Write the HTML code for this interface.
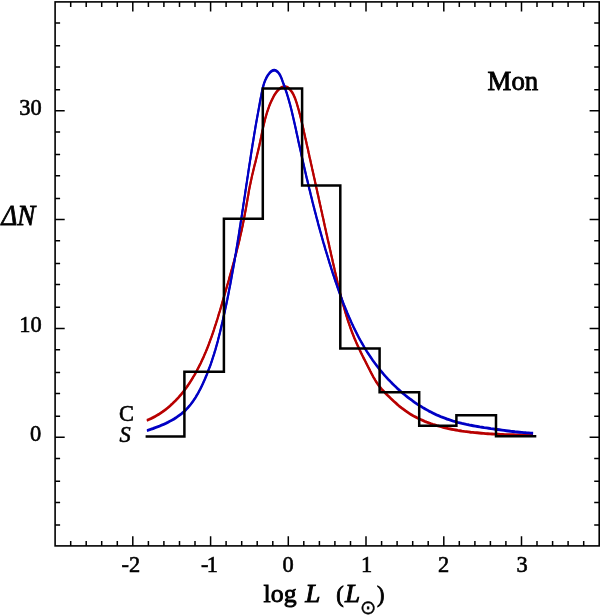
<!DOCTYPE html>
<html><head><meta charset="utf-8"><title>Mon luminosity function</title>
<style>
html,body{margin:0;padding:0;background:#fff;}
svg{display:block;}
text{font-family:"Liberation Serif","DejaVu Serif",serif;fill:#000;}
.tk{font-size:22.4px;stroke:#000;stroke-width:.6px;}
.big{font-size:26.8px;stroke:#000;stroke-width:.85px;}
</style></head><body>
<svg width="600" height="615" viewBox="0 0 600 615">
<defs><filter id="soft" x="-2%" y="-2%" width="104%" height="104%"><feGaussianBlur stdDeviation="0.5"/></filter></defs>
<rect width="600" height="615" fill="#fff"/>
<g filter="url(#soft)">
<path d="M70.7 545.9 v-5 M70.7 1.9 v5 M86.2 545.9 v-5 M86.2 1.9 v5 M101.7 545.9 v-5 M101.7 1.9 v5 M117.3 545.9 v-5 M117.3 1.9 v5 M132.8 545.9 v-9.6 M132.8 1.9 v9.6 M148.4 545.9 v-5 M148.4 1.9 v5 M163.9 545.9 v-5 M163.9 1.9 v5 M179.5 545.9 v-5 M179.5 1.9 v5 M195.0 545.9 v-5 M195.0 1.9 v5 M210.6 545.9 v-9.6 M210.6 1.9 v9.6 M226.1 545.9 v-5 M226.1 1.9 v5 M241.7 545.9 v-5 M241.7 1.9 v5 M257.2 545.9 v-5 M257.2 1.9 v5 M272.8 545.9 v-5 M272.8 1.9 v5 M288.3 545.9 v-9.6 M288.3 1.9 v9.6 M303.8 545.9 v-5 M303.8 1.9 v5 M319.4 545.9 v-5 M319.4 1.9 v5 M334.9 545.9 v-5 M334.9 1.9 v5 M350.5 545.9 v-5 M350.5 1.9 v5 M366.0 545.9 v-9.6 M366.0 1.9 v9.6 M381.6 545.9 v-5 M381.6 1.9 v5 M397.1 545.9 v-5 M397.1 1.9 v5 M412.7 545.9 v-5 M412.7 1.9 v5 M428.2 545.9 v-5 M428.2 1.9 v5 M443.8 545.9 v-9.6 M443.8 1.9 v9.6 M459.3 545.9 v-5 M459.3 1.9 v5 M474.9 545.9 v-5 M474.9 1.9 v5 M490.4 545.9 v-5 M490.4 1.9 v5 M505.9 545.9 v-5 M505.9 1.9 v5 M521.5 545.9 v-9.6 M521.5 1.9 v9.6 M537.0 545.9 v-5 M537.0 1.9 v5 M552.6 545.9 v-5 M552.6 1.9 v5 M568.1 545.9 v-5 M568.1 1.9 v5 M583.7 545.9 v-5 M583.7 1.9 v5 M55.1 525.1 h5 M599.2 525.1 h-5 M55.1 502.4 h5 M599.2 502.4 h-5 M55.1 481.2 h5 M599.2 481.2 h-5 M55.1 458.5 h5 M599.2 458.5 h-5 M55.1 437.3 h9.6 M599.2 437.3 h-9.6 M55.1 416.3 h5 M599.2 416.3 h-5 M55.1 393.6 h5 M599.2 393.6 h-5 M55.1 372.4 h5 M599.2 372.4 h-5 M55.1 349.7 h5 M599.2 349.7 h-5 M55.1 328.5 h9.6 M599.2 328.5 h-9.6 M55.1 307.3 h5 M599.2 307.3 h-5 M55.1 284.6 h5 M599.2 284.6 h-5 M55.1 263.4 h5 M599.2 263.4 h-5 M55.1 240.7 h5 M599.2 240.7 h-5 M55.1 219.5 h9.6 M599.2 219.5 h-9.6 M55.1 198.5 h5 M599.2 198.5 h-5 M55.1 175.8 h5 M599.2 175.8 h-5 M55.1 154.6 h5 M599.2 154.6 h-5 M55.1 131.9 h5 M599.2 131.9 h-5 M55.1 110.7 h9.6 M599.2 110.7 h-9.6 M55.1 89.7 h5 M599.2 89.7 h-5 M55.1 67.0 h5 M599.2 67.0 h-5 M55.1 45.8 h5 M599.2 45.8 h-5 M55.1 23.1 h5 M599.2 23.1 h-5" stroke="#000" stroke-width="1.5" fill="none"/>
<rect x="55.1" y="1.9" width="544.1" height="544.0" fill="none" stroke="#000" stroke-width="1.6"/>
<g fill="none" stroke="#b80000" stroke-width="2.05" stroke-linejoin="round"><polyline transform="translate(0,-0.42)" points="146.9,420.4 148.9,419.5 150.9,418.6 152.9,417.6 154.8,416.6 156.7,415.5 158.6,414.4 160.4,413.2 162.2,412.0 164.0,410.7 165.7,409.5 167.4,408.1 169.0,406.8 170.6,405.3 172.2,403.9 173.7,402.4 175.3,400.9 176.7,399.4 178.2,397.8 179.6,396.2 181.0,394.6 182.4,392.9 183.7,391.2 185.0,389.5 186.3,387.8 187.5,386.0 188.7,384.2 189.9,382.4 191.1,380.6 192.2,378.8 193.3,376.9 194.4,375.1 195.5,373.2 196.5,371.3 197.5,369.4 198.5,367.5 199.5,365.5 200.5,363.6 201.4,361.7 202.3,359.7 203.2,357.8 204.1,355.8 204.9,353.8 205.8,351.8 206.6,349.9 207.4,347.9 208.2,345.9 208.9,343.9 209.7,341.9 210.4,339.8 211.2,337.8 211.9,335.8 212.6,333.8 213.3,331.7 214.0,329.7 214.6,327.6 215.3,325.6 216.0,323.5 216.6,321.5 217.3,319.4 217.9,317.4 218.5,315.3 219.1,313.2 219.8,311.2 220.4,309.1 221.0,307.0 221.6,305.0 222.2,302.9 222.8,300.8 223.4,298.8 224.0,296.7 224.6,294.6 225.2,292.5 225.8,290.5 226.4,288.4 227.0,286.3 227.6,284.2 228.2,282.2 228.8,280.1 229.3,278.0 229.9,276.0 230.5,273.9 231.1,271.8 231.7,269.7 232.3,267.7 232.8,265.6 233.4,263.5 234.0,261.4 234.5,259.4 235.1,257.3 235.6,255.2 236.2,253.1 236.7,251.0 237.2,248.9 237.7,246.9 238.3,244.8 238.8,242.7 239.3,240.6 239.8,238.5 240.2,236.4 240.7,234.3 241.2,232.2 241.7,230.1 242.1,228.0 242.6,225.9 243.0,223.8 243.4,221.7 243.8,219.6 244.2,217.5 244.6,215.4 245.0,213.3 245.4,211.2 245.8,209.1 246.2,207.0 246.5,204.8 246.9,202.7 247.3,200.6 247.6,198.5 248.0,196.4 248.4,194.3 248.7,192.1 249.1,190.0 249.5,187.9 249.9,185.8 250.4,183.7 250.8,181.6 251.3,179.4 251.7,177.3 252.2,175.2 252.7,173.1 253.2,171.0 253.7,168.9 254.2,166.8 254.7,164.7 255.3,162.6 255.8,160.5 256.3,158.4 256.8,156.3 257.3,154.2 257.8,152.1 258.3,150.0 258.8,147.9 259.3,145.8 259.7,143.7 260.2,141.6 260.6,139.5 261.1,137.4 261.5,135.3 261.9,133.2 262.3,131.2 262.8,129.1 263.2,127.0 263.7,124.9 264.2,122.9 264.7,120.8 265.2,118.7 265.8,116.7 266.4,114.6 267.0,112.5 267.7,110.5 268.4,108.4 269.1,106.4 269.9,104.4 270.8,102.3 271.7,100.3 272.7,98.3 273.7,96.3 274.8,94.4 276.1,92.5 277.4,90.9 278.9,89.4 280.5,88.1 282.3,87.1 284.1,86.6 285.9,86.8 287.7,87.5 289.3,88.8 290.8,90.4 292.1,92.3 293.3,94.3 294.2,96.3 295.1,98.3 295.8,100.4 296.5,102.4 297.1,104.5 297.7,106.5 298.3,108.6 298.9,110.7 299.4,112.7 300.0,114.8 300.5,116.9 301.0,119.0 301.5,121.1 302.0,123.2 302.5,125.3 303.0,127.4 303.5,129.5 303.9,131.6 304.4,133.7 304.9,135.8 305.3,137.9 305.8,140.0 306.3,142.1 306.7,144.2 307.2,146.3 307.7,148.4 308.2,150.5 308.6,152.6 309.1,154.7 309.5,156.8 310.0,158.9 310.5,161.0 310.9,163.1 311.4,165.2 311.9,167.3 312.3,169.4 312.8,171.5 313.3,173.6 313.7,175.7 314.2,177.8 314.7,179.9 315.1,182.0 315.6,184.1 316.0,186.2 316.5,188.3 317.0,190.4 317.4,192.5 317.9,194.6 318.4,196.7 318.8,198.8 319.3,200.9 319.7,203.0 320.2,205.1 320.7,207.2 321.1,209.3 321.6,211.4 322.1,213.5 322.5,215.6 323.0,217.7 323.5,219.9 323.9,222.0 324.4,224.1 324.8,226.2 325.3,228.3 325.8,230.4 326.2,232.5 326.7,234.6 327.2,236.7 327.6,238.8 328.1,240.9 328.6,243.0 329.1,245.1 329.5,247.2 330.0,249.3 330.5,251.4 330.9,253.5 331.4,255.6 331.9,257.7 332.4,259.8 332.8,261.9 333.3,264.0 333.8,266.1 334.3,268.2 334.7,270.3 335.2,272.4 335.7,274.5 336.2,276.6 336.7,278.7 337.2,280.8 337.6,282.9 338.1,285.0 338.6,287.1 339.2,289.2 339.7,291.3 340.2,293.4 340.7,295.4 341.2,297.5 341.8,299.6 342.3,301.7 342.9,303.8 343.5,305.8 344.1,307.9 344.7,310.0 345.3,312.0 345.9,314.1 346.5,316.1 347.2,318.2 347.8,320.2 348.5,322.3 349.2,324.3 349.9,326.3 350.6,328.4 351.4,330.4 352.1,332.4 352.9,334.4 353.7,336.4 354.5,338.4 355.4,340.4 356.2,342.3 357.1,344.3 358.0,346.3 358.9,348.2 359.8,350.2 360.7,352.1 361.7,354.1 362.6,356.0 363.6,358.0 364.6,359.9 365.6,361.8 366.5,363.7 367.5,365.7 368.5,367.6 369.5,369.5 370.4,371.4 371.4,373.3 372.4,375.2 373.4,377.1 374.5,378.9 375.5,380.7 376.7,382.5 377.9,384.3 379.1,386.0 380.4,387.7 381.8,389.3 383.3,390.9 384.8,392.5 386.3,394.0 387.9,395.6 389.5,397.1 391.0,398.6 392.6,400.1 394.2,401.6 395.8,403.0 397.4,404.5 399.0,405.9 400.7,407.2 402.4,408.6 404.1,409.8 405.8,411.1 407.6,412.3 409.4,413.5 411.2,414.6 413.1,415.7 414.9,416.7 416.8,417.7 418.8,418.6 420.7,419.5 422.7,420.4 424.7,421.3 426.7,422.1 428.7,422.8 430.7,423.6 432.8,424.3 434.8,424.9 436.9,425.6 439.0,426.2 441.1,426.7 443.1,427.3 445.2,427.8 447.3,428.3 449.4,428.8 451.5,429.2 453.7,429.6 455.8,430.0 457.9,430.4 460.0,430.7 462.1,431.1 464.3,431.4 466.4,431.6 468.5,431.9 470.7,432.2 472.8,432.4 474.9,432.6 477.1,432.8 479.2,433.0 481.4,433.2 483.5,433.4 485.7,433.6 487.8,433.7 490.0,433.9 492.1,434.0 494.3,434.1 496.4,434.2 498.6,434.3 500.7,434.4 502.9,434.5 505.0,434.6 507.2,434.7 509.3,434.7 511.5,434.8 513.6,434.8 515.8,434.9 517.9,434.9 520.1,435.0 522.2,435.0 524.4,435.0 526.5,435.0 528.7,435.0 530.8,435.1 533.0,435.1"/><polyline transform="translate(0,0.42)" points="146.9,420.4 148.9,419.5 150.9,418.6 152.9,417.6 154.8,416.6 156.7,415.5 158.6,414.4 160.4,413.2 162.2,412.0 164.0,410.7 165.7,409.5 167.4,408.1 169.0,406.8 170.6,405.3 172.2,403.9 173.7,402.4 175.3,400.9 176.7,399.4 178.2,397.8 179.6,396.2 181.0,394.6 182.4,392.9 183.7,391.2 185.0,389.5 186.3,387.8 187.5,386.0 188.7,384.2 189.9,382.4 191.1,380.6 192.2,378.8 193.3,376.9 194.4,375.1 195.5,373.2 196.5,371.3 197.5,369.4 198.5,367.5 199.5,365.5 200.5,363.6 201.4,361.7 202.3,359.7 203.2,357.8 204.1,355.8 204.9,353.8 205.8,351.8 206.6,349.9 207.4,347.9 208.2,345.9 208.9,343.9 209.7,341.9 210.4,339.8 211.2,337.8 211.9,335.8 212.6,333.8 213.3,331.7 214.0,329.7 214.6,327.6 215.3,325.6 216.0,323.5 216.6,321.5 217.3,319.4 217.9,317.4 218.5,315.3 219.1,313.2 219.8,311.2 220.4,309.1 221.0,307.0 221.6,305.0 222.2,302.9 222.8,300.8 223.4,298.8 224.0,296.7 224.6,294.6 225.2,292.5 225.8,290.5 226.4,288.4 227.0,286.3 227.6,284.2 228.2,282.2 228.8,280.1 229.3,278.0 229.9,276.0 230.5,273.9 231.1,271.8 231.7,269.7 232.3,267.7 232.8,265.6 233.4,263.5 234.0,261.4 234.5,259.4 235.1,257.3 235.6,255.2 236.2,253.1 236.7,251.0 237.2,248.9 237.7,246.9 238.3,244.8 238.8,242.7 239.3,240.6 239.8,238.5 240.2,236.4 240.7,234.3 241.2,232.2 241.7,230.1 242.1,228.0 242.6,225.9 243.0,223.8 243.4,221.7 243.8,219.6 244.2,217.5 244.6,215.4 245.0,213.3 245.4,211.2 245.8,209.1 246.2,207.0 246.5,204.8 246.9,202.7 247.3,200.6 247.6,198.5 248.0,196.4 248.4,194.3 248.7,192.1 249.1,190.0 249.5,187.9 249.9,185.8 250.4,183.7 250.8,181.6 251.3,179.4 251.7,177.3 252.2,175.2 252.7,173.1 253.2,171.0 253.7,168.9 254.2,166.8 254.7,164.7 255.3,162.6 255.8,160.5 256.3,158.4 256.8,156.3 257.3,154.2 257.8,152.1 258.3,150.0 258.8,147.9 259.3,145.8 259.7,143.7 260.2,141.6 260.6,139.5 261.1,137.4 261.5,135.3 261.9,133.2 262.3,131.2 262.8,129.1 263.2,127.0 263.7,124.9 264.2,122.9 264.7,120.8 265.2,118.7 265.8,116.7 266.4,114.6 267.0,112.5 267.7,110.5 268.4,108.4 269.1,106.4 269.9,104.4 270.8,102.3 271.7,100.3 272.7,98.3 273.7,96.3 274.8,94.4 276.1,92.5 277.4,90.9 278.9,89.4 280.5,88.1 282.3,87.1 284.1,86.6 285.9,86.8 287.7,87.5 289.3,88.8 290.8,90.4 292.1,92.3 293.3,94.3 294.2,96.3 295.1,98.3 295.8,100.4 296.5,102.4 297.1,104.5 297.7,106.5 298.3,108.6 298.9,110.7 299.4,112.7 300.0,114.8 300.5,116.9 301.0,119.0 301.5,121.1 302.0,123.2 302.5,125.3 303.0,127.4 303.5,129.5 303.9,131.6 304.4,133.7 304.9,135.8 305.3,137.9 305.8,140.0 306.3,142.1 306.7,144.2 307.2,146.3 307.7,148.4 308.2,150.5 308.6,152.6 309.1,154.7 309.5,156.8 310.0,158.9 310.5,161.0 310.9,163.1 311.4,165.2 311.9,167.3 312.3,169.4 312.8,171.5 313.3,173.6 313.7,175.7 314.2,177.8 314.7,179.9 315.1,182.0 315.6,184.1 316.0,186.2 316.5,188.3 317.0,190.4 317.4,192.5 317.9,194.6 318.4,196.7 318.8,198.8 319.3,200.9 319.7,203.0 320.2,205.1 320.7,207.2 321.1,209.3 321.6,211.4 322.1,213.5 322.5,215.6 323.0,217.7 323.5,219.9 323.9,222.0 324.4,224.1 324.8,226.2 325.3,228.3 325.8,230.4 326.2,232.5 326.7,234.6 327.2,236.7 327.6,238.8 328.1,240.9 328.6,243.0 329.1,245.1 329.5,247.2 330.0,249.3 330.5,251.4 330.9,253.5 331.4,255.6 331.9,257.7 332.4,259.8 332.8,261.9 333.3,264.0 333.8,266.1 334.3,268.2 334.7,270.3 335.2,272.4 335.7,274.5 336.2,276.6 336.7,278.7 337.2,280.8 337.6,282.9 338.1,285.0 338.6,287.1 339.2,289.2 339.7,291.3 340.2,293.4 340.7,295.4 341.2,297.5 341.8,299.6 342.3,301.7 342.9,303.8 343.5,305.8 344.1,307.9 344.7,310.0 345.3,312.0 345.9,314.1 346.5,316.1 347.2,318.2 347.8,320.2 348.5,322.3 349.2,324.3 349.9,326.3 350.6,328.4 351.4,330.4 352.1,332.4 352.9,334.4 353.7,336.4 354.5,338.4 355.4,340.4 356.2,342.3 357.1,344.3 358.0,346.3 358.9,348.2 359.8,350.2 360.7,352.1 361.7,354.1 362.6,356.0 363.6,358.0 364.6,359.9 365.6,361.8 366.5,363.7 367.5,365.7 368.5,367.6 369.5,369.5 370.4,371.4 371.4,373.3 372.4,375.2 373.4,377.1 374.5,378.9 375.5,380.7 376.7,382.5 377.9,384.3 379.1,386.0 380.4,387.7 381.8,389.3 383.3,390.9 384.8,392.5 386.3,394.0 387.9,395.6 389.5,397.1 391.0,398.6 392.6,400.1 394.2,401.6 395.8,403.0 397.4,404.5 399.0,405.9 400.7,407.2 402.4,408.6 404.1,409.8 405.8,411.1 407.6,412.3 409.4,413.5 411.2,414.6 413.1,415.7 414.9,416.7 416.8,417.7 418.8,418.6 420.7,419.5 422.7,420.4 424.7,421.3 426.7,422.1 428.7,422.8 430.7,423.6 432.8,424.3 434.8,424.9 436.9,425.6 439.0,426.2 441.1,426.7 443.1,427.3 445.2,427.8 447.3,428.3 449.4,428.8 451.5,429.2 453.7,429.6 455.8,430.0 457.9,430.4 460.0,430.7 462.1,431.1 464.3,431.4 466.4,431.6 468.5,431.9 470.7,432.2 472.8,432.4 474.9,432.6 477.1,432.8 479.2,433.0 481.4,433.2 483.5,433.4 485.7,433.6 487.8,433.7 490.0,433.9 492.1,434.0 494.3,434.1 496.4,434.2 498.6,434.3 500.7,434.4 502.9,434.5 505.0,434.6 507.2,434.7 509.3,434.7 511.5,434.8 513.6,434.8 515.8,434.9 517.9,434.9 520.1,435.0 522.2,435.0 524.4,435.0 526.5,435.0 528.7,435.0 530.8,435.1 533.0,435.1"/></g>
<g fill="none" stroke="#0000c4" stroke-width="2.05" stroke-linejoin="round"><polyline transform="translate(0,-0.42)" points="147.0,430.6 149.1,429.9 151.2,429.2 153.2,428.5 155.3,427.7 157.4,426.9 159.5,426.1 161.6,425.2 163.7,424.3 165.8,423.4 167.8,422.4 169.8,421.3 171.8,420.2 173.8,419.1 175.7,417.9 177.6,416.6 179.4,415.3 181.2,414.0 182.9,412.5 184.6,411.1 186.2,409.5 187.7,407.9 189.2,406.2 190.6,404.5 191.9,402.8 193.2,401.0 194.5,399.1 195.7,397.2 196.8,395.3 198.0,393.4 199.0,391.4 200.1,389.4 201.1,387.4 202.1,385.3 203.0,383.3 203.9,381.3 204.9,379.2 205.7,377.1 206.6,375.1 207.4,373.0 208.2,370.9 209.0,368.8 209.8,366.7 210.6,364.6 211.3,362.5 212.0,360.4 212.7,358.2 213.4,356.1 214.1,354.0 214.7,351.8 215.4,349.7 216.0,347.5 216.6,345.4 217.2,343.2 217.8,341.1 218.3,338.9 218.9,336.7 219.4,334.6 220.0,332.4 220.5,330.2 221.0,328.0 221.5,325.8 222.0,323.7 222.6,321.5 223.0,319.3 223.5,317.1 224.0,314.9 224.5,312.7 225.0,310.5 225.4,308.3 225.9,306.2 226.4,304.0 226.8,301.8 227.3,299.6 227.7,297.4 228.2,295.2 228.6,293.0 229.0,290.8 229.4,288.6 229.9,286.4 230.3,284.2 230.7,282.0 231.1,279.8 231.5,277.6 231.9,275.4 232.3,273.2 232.7,271.0 233.1,268.8 233.5,266.6 233.9,264.4 234.3,262.2 234.7,259.9 235.0,257.7 235.4,255.5 235.8,253.3 236.1,251.1 236.5,248.9 236.9,246.7 237.2,244.5 237.6,242.3 237.9,240.1 238.3,237.8 238.7,235.6 239.0,233.4 239.4,231.2 239.7,229.0 240.0,226.8 240.4,224.6 240.7,222.4 241.1,220.1 241.4,217.9 241.8,215.7 242.1,213.5 242.4,211.3 242.8,209.1 243.1,206.9 243.4,204.6 243.8,202.4 244.1,200.2 244.4,198.0 244.8,195.8 245.1,193.6 245.4,191.4 245.8,189.1 246.1,186.9 246.4,184.7 246.8,182.5 247.1,180.3 247.4,178.1 247.8,175.9 248.1,173.7 248.4,171.4 248.8,169.2 249.1,167.0 249.4,164.8 249.8,162.6 250.1,160.4 250.5,158.2 250.8,156.0 251.1,153.8 251.5,151.5 251.8,149.3 252.2,147.1 252.5,144.9 252.9,142.7 253.3,140.5 253.6,138.3 254.0,136.1 254.3,133.9 254.7,131.7 255.1,129.5 255.4,127.3 255.8,125.0 256.2,122.8 256.6,120.6 257.0,118.4 257.4,116.2 257.8,114.0 258.2,111.8 258.6,109.6 259.0,107.4 259.4,105.2 259.8,102.9 260.2,100.7 260.6,98.5 261.1,96.3 261.5,94.1 261.9,91.9 262.4,89.7 262.9,87.5 263.5,85.3 264.1,83.2 264.9,81.1 265.8,79.0 266.8,77.0 268.0,75.0 269.4,73.2 270.9,71.6 272.6,70.5 274.3,70.2 276.1,70.7 277.8,72.0 279.2,73.7 280.4,75.8 281.4,78.0 282.2,80.2 283.0,82.5 283.8,84.6 284.6,86.8 285.3,88.9 286.0,91.0 286.7,93.0 287.3,95.1 288.0,97.2 288.6,99.4 289.2,101.5 289.8,103.6 290.4,105.8 290.9,107.9 291.5,110.1 292.0,112.3 292.5,114.5 293.0,116.6 293.5,118.8 294.0,121.0 294.5,123.2 295.0,125.4 295.5,127.6 296.0,129.8 296.4,132.0 296.9,134.2 297.4,136.4 297.9,138.6 298.3,140.8 298.8,143.0 299.3,145.2 299.8,147.4 300.3,149.6 300.8,151.8 301.2,154.0 301.7,156.2 302.2,158.4 302.7,160.5 303.2,162.7 303.7,164.9 304.2,167.1 304.7,169.3 305.2,171.5 305.7,173.6 306.2,175.8 306.7,178.0 307.3,180.2 307.8,182.4 308.3,184.5 308.8,186.7 309.3,188.9 309.9,191.0 310.4,193.2 310.9,195.4 311.5,197.6 312.0,199.7 312.5,201.9 313.1,204.1 313.6,206.2 314.2,208.4 314.7,210.5 315.3,212.7 315.9,214.9 316.4,217.0 317.0,219.2 317.6,221.3 318.1,223.5 318.7,225.7 319.3,227.8 319.9,230.0 320.5,232.1 321.1,234.3 321.7,236.4 322.3,238.6 322.9,240.7 323.5,242.9 324.2,245.0 324.8,247.2 325.4,249.3 326.1,251.5 326.7,253.6 327.4,255.7 328.0,257.9 328.7,260.0 329.3,262.2 330.0,264.3 330.7,266.5 331.3,268.6 332.0,270.7 332.7,272.9 333.4,275.0 334.1,277.1 334.8,279.3 335.5,281.4 336.3,283.5 337.0,285.7 337.7,287.8 338.5,289.9 339.2,292.0 340.0,294.2 340.8,296.3 341.5,298.4 342.3,300.5 343.1,302.6 343.9,304.7 344.8,306.8 345.6,308.9 346.5,310.9 347.3,313.0 348.2,315.1 349.1,317.2 350.0,319.2 350.9,321.3 351.8,323.3 352.8,325.3 353.7,327.4 354.7,329.4 355.7,331.4 356.7,333.4 357.7,335.4 358.7,337.3 359.8,339.3 360.9,341.3 362.0,343.2 363.1,345.1 364.2,347.1 365.4,349.0 366.5,350.9 367.7,352.8 368.9,354.6 370.2,356.5 371.4,358.3 372.7,360.2 374.0,362.0 375.3,363.8 376.7,365.6 378.1,367.4 379.4,369.1 380.8,370.9 382.3,372.6 383.7,374.3 385.2,376.0 386.7,377.7 388.2,379.3 389.8,380.9 391.3,382.5 392.9,384.1 394.5,385.7 396.1,387.2 397.7,388.8 399.4,390.3 401.1,391.8 402.8,393.2 404.5,394.6 406.2,396.0 408.0,397.4 409.8,398.8 411.6,400.1 413.4,401.4 415.2,402.7 417.0,403.9 418.9,405.2 420.8,406.3 422.7,407.5 424.6,408.6 426.6,409.7 428.5,410.8 430.5,411.8 432.5,412.9 434.5,413.8 436.5,414.8 438.5,415.7 440.6,416.6 442.7,417.4 444.8,418.2 446.9,419.0 449.0,419.7 451.1,420.4 453.3,421.1 455.4,421.7 457.6,422.3 459.8,422.8 462.0,423.4 464.2,423.9 466.4,424.4 468.6,424.8 470.9,425.3 473.1,425.7 475.3,426.1 477.5,426.5 479.8,426.9 482.0,427.2 484.2,427.6 486.5,427.9 488.7,428.2 490.9,428.6 493.1,428.9 495.3,429.2 497.5,429.5 499.7,429.8 501.9,430.1 504.1,430.4 506.2,430.7 508.4,431.0 510.6,431.3 512.8,431.5 515.0,431.8 517.2,432.0 519.5,432.2 521.7,432.4 523.9,432.6 526.2,432.8 528.5,432.9 530.8,433.1 533.1,433.2"/><polyline transform="translate(0,0.42)" points="147.0,430.6 149.1,429.9 151.2,429.2 153.2,428.5 155.3,427.7 157.4,426.9 159.5,426.1 161.6,425.2 163.7,424.3 165.8,423.4 167.8,422.4 169.8,421.3 171.8,420.2 173.8,419.1 175.7,417.9 177.6,416.6 179.4,415.3 181.2,414.0 182.9,412.5 184.6,411.1 186.2,409.5 187.7,407.9 189.2,406.2 190.6,404.5 191.9,402.8 193.2,401.0 194.5,399.1 195.7,397.2 196.8,395.3 198.0,393.4 199.0,391.4 200.1,389.4 201.1,387.4 202.1,385.3 203.0,383.3 203.9,381.3 204.9,379.2 205.7,377.1 206.6,375.1 207.4,373.0 208.2,370.9 209.0,368.8 209.8,366.7 210.6,364.6 211.3,362.5 212.0,360.4 212.7,358.2 213.4,356.1 214.1,354.0 214.7,351.8 215.4,349.7 216.0,347.5 216.6,345.4 217.2,343.2 217.8,341.1 218.3,338.9 218.9,336.7 219.4,334.6 220.0,332.4 220.5,330.2 221.0,328.0 221.5,325.8 222.0,323.7 222.6,321.5 223.0,319.3 223.5,317.1 224.0,314.9 224.5,312.7 225.0,310.5 225.4,308.3 225.9,306.2 226.4,304.0 226.8,301.8 227.3,299.6 227.7,297.4 228.2,295.2 228.6,293.0 229.0,290.8 229.4,288.6 229.9,286.4 230.3,284.2 230.7,282.0 231.1,279.8 231.5,277.6 231.9,275.4 232.3,273.2 232.7,271.0 233.1,268.8 233.5,266.6 233.9,264.4 234.3,262.2 234.7,259.9 235.0,257.7 235.4,255.5 235.8,253.3 236.1,251.1 236.5,248.9 236.9,246.7 237.2,244.5 237.6,242.3 237.9,240.1 238.3,237.8 238.7,235.6 239.0,233.4 239.4,231.2 239.7,229.0 240.0,226.8 240.4,224.6 240.7,222.4 241.1,220.1 241.4,217.9 241.8,215.7 242.1,213.5 242.4,211.3 242.8,209.1 243.1,206.9 243.4,204.6 243.8,202.4 244.1,200.2 244.4,198.0 244.8,195.8 245.1,193.6 245.4,191.4 245.8,189.1 246.1,186.9 246.4,184.7 246.8,182.5 247.1,180.3 247.4,178.1 247.8,175.9 248.1,173.7 248.4,171.4 248.8,169.2 249.1,167.0 249.4,164.8 249.8,162.6 250.1,160.4 250.5,158.2 250.8,156.0 251.1,153.8 251.5,151.5 251.8,149.3 252.2,147.1 252.5,144.9 252.9,142.7 253.3,140.5 253.6,138.3 254.0,136.1 254.3,133.9 254.7,131.7 255.1,129.5 255.4,127.3 255.8,125.0 256.2,122.8 256.6,120.6 257.0,118.4 257.4,116.2 257.8,114.0 258.2,111.8 258.6,109.6 259.0,107.4 259.4,105.2 259.8,102.9 260.2,100.7 260.6,98.5 261.1,96.3 261.5,94.1 261.9,91.9 262.4,89.7 262.9,87.5 263.5,85.3 264.1,83.2 264.9,81.1 265.8,79.0 266.8,77.0 268.0,75.0 269.4,73.2 270.9,71.6 272.6,70.5 274.3,70.2 276.1,70.7 277.8,72.0 279.2,73.7 280.4,75.8 281.4,78.0 282.2,80.2 283.0,82.5 283.8,84.6 284.6,86.8 285.3,88.9 286.0,91.0 286.7,93.0 287.3,95.1 288.0,97.2 288.6,99.4 289.2,101.5 289.8,103.6 290.4,105.8 290.9,107.9 291.5,110.1 292.0,112.3 292.5,114.5 293.0,116.6 293.5,118.8 294.0,121.0 294.5,123.2 295.0,125.4 295.5,127.6 296.0,129.8 296.4,132.0 296.9,134.2 297.4,136.4 297.9,138.6 298.3,140.8 298.8,143.0 299.3,145.2 299.8,147.4 300.3,149.6 300.8,151.8 301.2,154.0 301.7,156.2 302.2,158.4 302.7,160.5 303.2,162.7 303.7,164.9 304.2,167.1 304.7,169.3 305.2,171.5 305.7,173.6 306.2,175.8 306.7,178.0 307.3,180.2 307.8,182.4 308.3,184.5 308.8,186.7 309.3,188.9 309.9,191.0 310.4,193.2 310.9,195.4 311.5,197.6 312.0,199.7 312.5,201.9 313.1,204.1 313.6,206.2 314.2,208.4 314.7,210.5 315.3,212.7 315.9,214.9 316.4,217.0 317.0,219.2 317.6,221.3 318.1,223.5 318.7,225.7 319.3,227.8 319.9,230.0 320.5,232.1 321.1,234.3 321.7,236.4 322.3,238.6 322.9,240.7 323.5,242.9 324.2,245.0 324.8,247.2 325.4,249.3 326.1,251.5 326.7,253.6 327.4,255.7 328.0,257.9 328.7,260.0 329.3,262.2 330.0,264.3 330.7,266.5 331.3,268.6 332.0,270.7 332.7,272.9 333.4,275.0 334.1,277.1 334.8,279.3 335.5,281.4 336.3,283.5 337.0,285.7 337.7,287.8 338.5,289.9 339.2,292.0 340.0,294.2 340.8,296.3 341.5,298.4 342.3,300.5 343.1,302.6 343.9,304.7 344.8,306.8 345.6,308.9 346.5,310.9 347.3,313.0 348.2,315.1 349.1,317.2 350.0,319.2 350.9,321.3 351.8,323.3 352.8,325.3 353.7,327.4 354.7,329.4 355.7,331.4 356.7,333.4 357.7,335.4 358.7,337.3 359.8,339.3 360.9,341.3 362.0,343.2 363.1,345.1 364.2,347.1 365.4,349.0 366.5,350.9 367.7,352.8 368.9,354.6 370.2,356.5 371.4,358.3 372.7,360.2 374.0,362.0 375.3,363.8 376.7,365.6 378.1,367.4 379.4,369.1 380.8,370.9 382.3,372.6 383.7,374.3 385.2,376.0 386.7,377.7 388.2,379.3 389.8,380.9 391.3,382.5 392.9,384.1 394.5,385.7 396.1,387.2 397.7,388.8 399.4,390.3 401.1,391.8 402.8,393.2 404.5,394.6 406.2,396.0 408.0,397.4 409.8,398.8 411.6,400.1 413.4,401.4 415.2,402.7 417.0,403.9 418.9,405.2 420.8,406.3 422.7,407.5 424.6,408.6 426.6,409.7 428.5,410.8 430.5,411.8 432.5,412.9 434.5,413.8 436.5,414.8 438.5,415.7 440.6,416.6 442.7,417.4 444.8,418.2 446.9,419.0 449.0,419.7 451.1,420.4 453.3,421.1 455.4,421.7 457.6,422.3 459.8,422.8 462.0,423.4 464.2,423.9 466.4,424.4 468.6,424.8 470.9,425.3 473.1,425.7 475.3,426.1 477.5,426.5 479.8,426.9 482.0,427.2 484.2,427.6 486.5,427.9 488.7,428.2 490.9,428.6 493.1,428.9 495.3,429.2 497.5,429.5 499.7,429.8 501.9,430.1 504.1,430.4 506.2,430.7 508.4,431.0 510.6,431.3 512.8,431.5 515.0,431.8 517.2,432.0 519.5,432.2 521.7,432.4 523.9,432.6 526.2,432.8 528.5,432.9 530.8,433.1 533.1,433.2"/></g>
<path d="M145.6 436.4 H184.4 V371.7 H223.9 V218.8 H262.8 V88.5 H302.1 V185.6 H340.3 V348.5 H379.6 V392.3 H419.2 V425.7 H456.4 V415.2 H496 V436.3 H536.3" fill="none" stroke="#000" stroke-width="2.5" stroke-linejoin="miter" stroke-linecap="butt"/>
<g class="tk">
<text x="130.8" y="571.9" text-anchor="middle">-2</text><text x="201.0" y="571.9">-<tspan dx="-1.6">1</tspan></text><text x="288.0" y="571.9" text-anchor="middle">0</text><text x="366.6" y="571.9" text-anchor="middle">1</text><text x="443.5" y="571.9" text-anchor="middle">2</text><text x="522.0" y="571.9" text-anchor="middle">3</text>
<text x="30.5" y="114.6" text-anchor="middle">30</text>
<text x="30.5" y="332.2" text-anchor="middle">10</text>
<text x="35.6" y="441.2" text-anchor="middle">0</text>
<text x="126.5" y="421.4" text-anchor="middle">C</text>
<text x="125.0" y="442.2" text-anchor="middle" font-style="italic">S</text>
</g>
<g class="big">
<text transform="translate(1.4,225.3) scale(0.935,1)" font-size="28.8px" font-style="italic">ΔN</text>
<text transform="translate(487.6,90.3) scale(1.0,1)" font-size="26.8px">Mon</text>
<text transform="translate(263.6,602.3) scale(1.0,1)" font-size="25.8px">log</text>
<text transform="translate(305.2,602.3) scale(1.06,1)" font-size="25.6px" font-style="italic">L</text>
<text transform="translate(336.2,602.1) scale(1.0,1)" font-size="22.4px">(</text>
<text transform="translate(344.9,602.3) scale(1.06,1)" font-size="25.6px" font-style="italic">L</text>
<text transform="translate(376.9,602.1) scale(1.0,1)" font-size="22.4px">)</text>
</g>
<text x="368.1" y="614.1" text-anchor="middle" font-size="19.4px" style="font-family:'DejaVu Sans','DejaVu Serif',sans-serif" stroke="#000" stroke-width=".35">⊙</text>
</g>
</svg>
</body></html>
